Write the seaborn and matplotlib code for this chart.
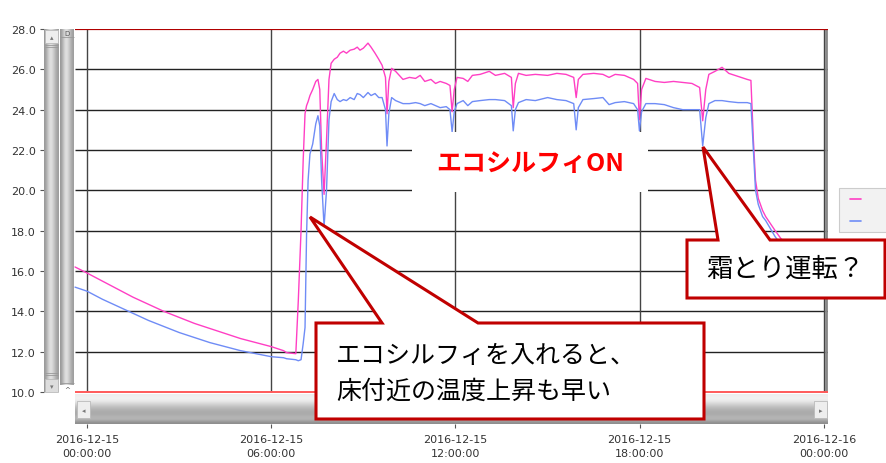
import numpy as np
import pandas as pd
import matplotlib.pyplot as plt
import seaborn as sns
from matplotlib.patches import Polygon, Rectangle

# 時刻（2016-12-15 00:00 からの経過時間 [h]）
jikan = [-0.39, 0.0, 0.5, 1.0, 1.5, 2.0, 2.5, 3.0, 3.5, 4.0, 4.5, 5.0, 5.5, 6.0,
         6.4, 6.5, 6.8, 6.88, 6.97, 7.04, 7.10, 7.15, 7.20, 7.26, 7.35, 7.45,
         7.52, 7.58, 7.64, 7.72, 7.80, 7.88, 7.95, 8.05, 8.15, 8.24, 8.35, 8.45,
         8.57, 8.7, 8.8, 8.89, 9.0, 9.15, 9.25, 9.38, 9.5, 9.61, 9.72, 9.77,
         9.83, 9.92, 10.05, 10.29, 10.5, 10.7, 10.85, 11.0, 11.2, 11.35, 11.5,
         11.7, 11.82, 11.89, 11.96, 12.05, 12.25, 12.4, 12.55, 12.8, 13.1, 13.3,
         13.6, 13.82, 13.88, 13.95, 14.05, 14.3, 14.6, 15.0, 15.3, 15.6, 15.85,
         15.93, 16.0, 16.15, 16.5, 16.8, 17.0, 17.2, 17.5, 17.8, 17.93, 17.99,
         18.06, 18.2, 18.5, 18.8, 19.1, 19.4, 19.7, 19.95, 20.05, 20.15, 20.25,
         20.45, 20.68, 20.9, 21.2, 21.5, 21.62, 21.7, 21.77, 21.86, 22.0, 22.1,
         22.41, 22.6, 22.9]

ondo_pink = [16.2, 15.9, 15.5, 15.1, 14.7, 14.35, 14.0, 13.7, 13.4, 13.15, 12.9,
             12.65, 12.45, 12.25, 12.05, 11.95, 11.9, 14.5, 18.0, 21.5, 23.8,
             24.2, 24.4, 24.7, 25.0, 25.4, 25.5, 25.0, 22.0, 19.8, 22.5, 25.5,
             26.3, 26.5, 26.6, 26.8, 26.9, 26.8, 26.95, 27.0, 27.1, 26.95, 27.05,
             27.3, 27.1, 26.8, 26.5, 26.2, 25.6, 23.8, 25.4, 26.05, 25.9, 25.5,
             25.6, 25.55, 25.7, 25.4, 25.5, 25.3, 25.4, 25.3, 25.2, 23.9, 25.0,
             25.6, 25.55, 25.4, 25.7, 25.75, 25.9, 25.7, 25.8, 25.6, 24.1, 25.3,
             25.8, 25.7, 25.75, 25.7, 25.8, 25.75, 25.6, 24.6, 25.5, 25.75, 25.8,
             25.75, 25.6, 25.75, 25.7, 25.5, 25.3, 23.5, 25.0, 25.55, 25.4,
             25.35, 25.4, 25.35, 25.3, 25.1, 23.45, 25.0, 25.75, 25.9, 26.1,
             25.8, 25.65, 25.5, 25.45, 22.5, 20.5, 19.6, 19.0, 18.7, 18.0, 17.6,
             17.2]

ondo_blue = [15.2, 15.0, 14.6, 14.25, 13.9, 13.55, 13.25, 12.95, 12.7, 12.45,
             12.25, 12.05, 11.9, 11.75, 11.7, 11.65, 11.6, 11.55, 11.6, 12.4,
             13.2, 17.8, 20.5, 21.8, 22.3, 23.3, 23.7, 23.2, 20.5, 18.2, 20.0,
             23.5, 24.4, 24.8, 24.5, 24.4, 24.5, 24.45, 24.6, 24.5, 24.8, 24.75,
             24.6, 24.85, 24.7, 24.8, 24.6, 24.6, 24.0, 22.2, 23.8, 24.6, 24.45,
             24.3, 24.3, 24.35, 24.3, 24.2, 24.3, 24.2, 24.1, 24.15, 24.0, 22.9,
             23.9, 24.3, 24.45, 24.2, 24.4, 24.45, 24.5, 24.5, 24.45, 24.2,
             22.95, 24.0, 24.35, 24.5, 24.45, 24.6, 24.5, 24.45, 24.3, 23.0,
             24.1, 24.5, 24.55, 24.6, 24.25, 24.35, 24.4, 24.3, 24.0, 22.95,
             23.9, 24.3, 24.3, 24.25, 24.1, 24.0, 24.0, 24.0, 22.2, 23.6, 24.3,
             24.45, 24.45, 24.4, 24.35, 24.35, 24.3, 22.0, 20.0, 19.3, 18.7,
             18.5, 17.7, 17.3, 16.9]

series_names = ['pink', 'blue']
series_colors = ['#ff3fc4', '#6f8cf6']

x_ticks = [0, 6, 12, 18, 24]
x_ticklabels = ['2016-12-15\n00:00:00', '2016-12-15\n06:00:00', '2016-12-15\n12:00:00',
                '2016-12-15\n18:00:00', '2016-12-16\n00:00:00']
y_ticks = [10, 12, 14, 16, 18, 20, 22, 24, 26, 28]

df = pd.DataFrame({
    'jikan': jikan * 2,
    'ondo': ondo_pink + ondo_blue,
    'series': ['pink'] * len(jikan) + ['blue'] * len(jikan),
})

sns.set_style('white')
plt.rcParams['font.family'] = ['Noto Sans CJK JP', 'DejaVu Sans']

W, H = 887, 464
fig = plt.figure(figsize=(W / 100, H / 100), dpi=100)

# main plot area (pixel box 44..828 x 30..425)
ax = fig.add_axes([44 / W, 1 - 425 / H, 784 / W, 395 / H])
px_per_h = (824 - 87) / 24
x_left = (44 - 87) / px_per_h
x_right = (828 - 87) / px_per_h
y_bottom = 28 - 395 / (363 / 18)
ax.set_xlim(x_left, x_right)
ax.set_ylim(y_bottom, 28)

grid_l = (75 - 87) / px_per_h
ax.hlines(y_ticks[1:-1], grid_l, x_right, color='#222222', lw=1.0, zorder=1)
ax.vlines(x_ticks, 10, 28, color='#444444', lw=1.0, zorder=1)
ax.vlines(x_right - 0.05, 10, 28, color='#888888', lw=2.0, zorder=1)
ax.hlines(28, grid_l, x_right, color='#b00000', lw=1.6, zorder=3)
ax.hlines(10, grid_l, x_right, color='#ff5a5a', lw=1.4, zorder=3)

sns.lineplot(data=df, x='jikan', y='ondo', hue='series', hue_order=series_names,
             palette=series_colors, estimator=None, sort=False, lw=1.0,
             legend=False, ax=ax, zorder=2)

for s in ax.spines.values():
    s.set_visible(False)
ax.set_xticks(x_ticks)
ax.set_xticklabels(x_ticklabels, fontsize=8, color='#333333', family='DejaVu Sans',
                   linespacing=1.5)
ax.set_yticks(y_ticks)
ax.set_yticklabels([f'{v:.1f}' for v in y_ticks], fontsize=8, color='#333333',
                   family='DejaVu Sans')
ax.tick_params(axis='both', direction='out', length=3, width=0.8, color='#555555',
               bottom=True, left=True, pad=3)
ax.tick_params(axis='x', pad=4)
ax.set_xlabel('')
ax.set_ylabel('')

# overlay in pixel coordinates
ov = fig.add_axes([0, 0, 1, 1], zorder=5)
ov.set_xlim(0, W)
ov.set_ylim(H, 0)
ov.axis('off')
ov.patch.set_alpha(0)


def gradient(x0, x1, y0, y1, vals, horizontal):
    g = np.array(vals)
    img = g[None, :] if horizontal else g[:, None]
    ov.imshow(img, cmap='gray', vmin=0, vmax=1, aspect='auto',
              extent=(x0, x1, y1, y0), interpolation='bicubic', zorder=1)


# left scrollbars
side = [0.60, 0.76, 0.90, 0.84, 0.72, 0.62]
gradient(44, 59, 30, 393, side, True)
gradient(60, 74, 30, 386, side, True)
ov.add_patch(Rectangle((45, 31), 13, 13, fc='#eeeeee', ec='#bbbbbb', lw=0.6, zorder=2))
ov.text(51.5, 38, '▴', ha='center', va='center', fontsize=5, color='#777777', zorder=3)
ov.add_patch(Rectangle((45, 380), 13, 13, fc='#dddddd', ec='#bbbbbb', lw=0.6, zorder=2))
ov.text(51.5, 387, '▾', ha='center', va='center', fontsize=5, color='#777777', zorder=3)
ov.hlines([46, 48, 374, 376], 45, 58, color='#999999', lw=0.6, zorder=2)
ov.hlines([38, 384], 60, 74, color='#999999', lw=0.6, zorder=2)
ov.text(67, 31, 'D', ha='center', va='top', fontsize=5, color='#555555', zorder=3,
        family='DejaVu Sans')
ov.text(67, 390, '^', ha='center', va='center', fontsize=5, color='#555555', zorder=3,
        family='DejaVu Sans')

# bottom scrollbar
bar = [0.93, 0.95, 0.88, 0.78, 0.70, 0.66, 0.68, 0.74, 0.55]
gradient(75, 828, 395, 425, bar, False)
ov.add_patch(Rectangle((77, 402), 13, 17, fc='#eeeeee', ec='#bbbbbb', lw=0.6, zorder=2))
ov.text(83.5, 411, '◂', ha='center', va='center', fontsize=5, color='#777777', zorder=3)
ov.add_patch(Rectangle((814, 402), 13, 17, fc='#eeeeee', ec='#bbbbbb', lw=0.6, zorder=2))
ov.text(820.5, 411, '▸', ha='center', va='center', fontsize=5, color='#777777', zorder=3)

# legend stub (cut off at right edge)
ov.add_patch(Rectangle((839, 189), 60, 44, fc='#f2f2f2', ec='#cccccc', lw=0.8, zorder=2))
ov.plot([850, 861], [200, 200], color=series_colors[0], lw=1.2, zorder=3)
ov.plot([850, 861], [222, 222], color=series_colors[1], lw=1.2, zorder=3)

# "エコシルフィON" label
ov.add_patch(Rectangle((412, 133), 236, 60, fc='white', ec='none', zorder=2))
ov.text(530, 164, 'エコシルフィON', ha='center', va='center', fontsize=18,
        fontweight='bold', color='#ff0000', zorder=3)

# callouts
red = '#c00000'
c1 = [(316, 324), (382, 324), (310, 218), (478, 324), (704, 324), (704, 420), (316, 420)]
ov.add_patch(Polygon(c1, closed=True, fc='white', ec=red, lw=2.2, joinstyle='miter',
                     zorder=4))
ov.text(336, 374, 'エコシルフィを入れると、\n床付近の温度上昇も早い', ha='left',
        va='center', fontsize=18, color='black', linespacing=1.5, zorder=5)

c2 = [(687, 241), (718, 241), (703, 148), (770, 241), (885, 241), (885, 299), (687, 299)]
ov.add_patch(Polygon(c2, closed=True, fc='white', ec=red, lw=2.2, joinstyle='miter',
                     zorder=4))
ov.text(706, 269, '霜とり運転？', ha='left', va='center', fontsize=19, color='black',
        zorder=5)

fig.savefig('out.png', dpi=100)
